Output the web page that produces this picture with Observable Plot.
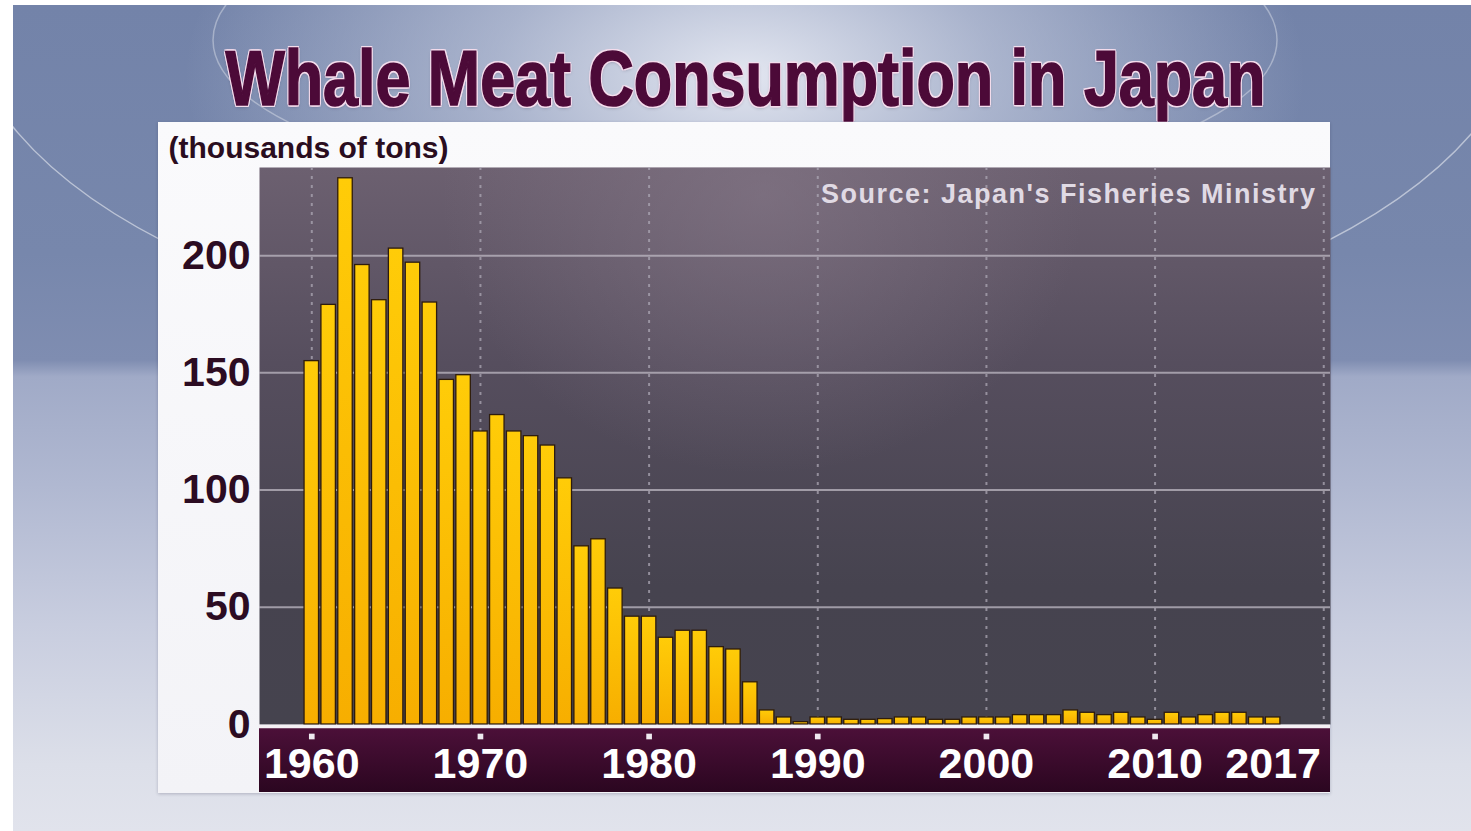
<!DOCTYPE html>
<html>
<head>
<meta charset="utf-8">
<script src="https://cdn.jsdelivr.net/npm/d3@7"></script>
<script src="https://cdn.jsdelivr.net/npm/@observablehq/plot@0.6"></script>
<style>
  html, body { margin: 0; padding: 0; width: 1471px; height: 831px; overflow: hidden; background: #ffffff; }
  body { font-family: "Liberation Sans", Arial, sans-serif; }
  #stage {
    position: absolute; left: 13px; top: 5px; width: 1458px; height: 826px; overflow: hidden;
    background:
      radial-gradient(ellipse 560px 300px at 732px 70px, rgba(232,235,244,0.95) 0%, rgba(205,211,228,0.6) 45%, rgba(190,198,220,0) 100%),
      linear-gradient(to bottom, #7383a9 0%, #7787ac 30%, #7f8db1 43%, #a0aac7 45%, #b0b8d1 58%, #c8cddf 75%, #dcdfe9 92%, #e1e3ec 100%);
  }
  #arcs { position: absolute; left: 0; top: 0; }
  #title {
    position: absolute; left: 0; top: 40px; width: 1490px; text-align: center;
    font-family: "Liberation Sans", Arial, sans-serif; font-weight: bold; font-size: 77px; line-height: 77px;
    color: #4c0a38; white-space: nowrap;
  }
  #title span {
    display: inline-block; transform-origin: 50% 50%;
    -webkit-text-stroke: 1.6px #4c0a38;
    text-shadow:
      2.2px 0 0 #f4dcec, -2.2px 0 0 #f4dcec, 0 2.2px 0 #f4dcec, 0 -2.2px 0 #f4dcec,
      1.6px 1.6px 0 #f4dcec, -1.6px 1.6px 0 #f4dcec, 1.6px -1.6px 0 #f4dcec, -1.6px -1.6px 0 #f4dcec,
      0 2px 4px rgba(40,20,50,0.35);
  }
  #panel {
    position: absolute; left: 158px; top: 122px; width: 1172px; height: 671px;
    background: linear-gradient(to bottom, #fafafc 0%, #f3f3f7 100%);
    box-shadow: 0 1px 3px rgba(40,40,70,0.25);
  }
  #chart { position: absolute; left: 158px; top: 122px; }
</style>
</head>
<body>
<div id="stage">
  <svg id="arcs" width="1458" height="826">
    <ellipse cx="732" cy="-5" rx="782" ry="361" fill="none" stroke="rgba(255,255,255,0.5)" stroke-width="1.5"></ellipse>
    <ellipse cx="732" cy="35" rx="532" ry="160" fill="none" stroke="rgba(255,255,255,0.35)" stroke-width="1.5"></ellipse>
  </svg>
</div>
<div id="title"><span id="titleText"></span></div>
<div id="panel"></div>
<div id="chart"></div>
<script>
// Whale meat consumption in Japan, thousands of tons per year
const years = [
  1960, 1961, 1962, 1963, 1964, 1965, 1966, 1967, 1968, 1969,
  1970, 1971, 1972, 1973, 1974, 1975, 1976, 1977, 1978, 1979,
  1980, 1981, 1982, 1983, 1984, 1985, 1986, 1987, 1988, 1989,
  1990, 1991, 1992, 1993, 1994, 1995, 1996, 1997, 1998, 1999,
  2000, 2001, 2002, 2003, 2004, 2005, 2006, 2007, 2008, 2009,
  2010, 2011, 2012, 2013, 2014, 2015, 2016, 2017
];
const consumption = [
  155, 179, 233, 196, 181, 203, 197, 180, 147, 149,
  125, 132, 125, 123, 119, 105, 76, 79, 58, 46,
  46, 37, 40, 40, 33, 32, 18, 6, 3, 1,
  3, 3, 2, 2, 2.3, 3, 3, 2, 2, 3,
  3, 3, 4, 4, 4, 6, 5, 4, 5, 3,
  2, 5, 3, 4, 5, 5, 3, 3
];
const yTicks = [0, 50, 100, 150, 200];
const gridValues = [50, 100, 150, 200];
const gridYears = [1960, 1970, 1980, 1990, 2000, 2010, 2020];
const decadeMarks = [1960, 1970, 1980, 1990, 2000, 2010];
const xTickLabels = [1960, 1970, 1980, 1990, 2000, 2010, 2017];
const titleText = "Whale Meat Consumption in Japan";
const unitLabel = "(thousands of tons)";
const sourceNote = "Source: Japan's Fisheries Ministry";

const data = years.map((year, i) => ({year, value: consumption[i]}));

// Title, squeezed horizontally into a condensed look
const titleSpan = document.getElementById("titleText");
titleSpan.textContent = titleText;
const naturalWidth = titleSpan.getBoundingClientRect().width;
titleSpan.style.transform = `scaleX(${1040 / naturalWidth})`;

const plot = Plot.plot({
  width: 1172,
  height: 671,
  marginLeft: 101,
  marginRight: 0,
  marginTop: 45,
  marginBottom: 69,
  style: {background: "transparent", fontFamily: "'Liberation Sans', Arial, sans-serif", overflow: "visible"},
  x: {domain: [1956.9, 2020.4]},
  y: {domain: [0, 237.6]},
  marks: [
    Plot.frame({fill: "url(#plotBg)"}),
    Plot.frame({fill: "url(#plotGlow)"}),
    Plot.ruleY(gridValues, {stroke: "#bdb8c3", strokeWidth: 2, strokeOpacity: 0.75}),
    Plot.ruleX(gridYears, {stroke: "#aca7b4", strokeWidth: 2, strokeDasharray: "3,6", strokeOpacity: 0.75}),
    Plot.rect(data, {
      x1: d => d.year - 0.5,
      x2: d => d.year + 0.5,
      y1: 0,
      y2: "value",
      insetLeft: 1.2,
      insetRight: 1.2,
      fill: "url(#barFill)",
      stroke: "#2e1c0c",
      strokeWidth: 1.3
    }),
    Plot.ruleY([0], {stroke: "#f5f1f5", strokeWidth: 3.5, dy: 2}),
    Plot.dot(decadeMarks, {x: d => d, frameAnchor: "bottom", dy: 12, symbol: "square", r: 3.2, fill: "#efeaf0"}),
    Plot.axisX(xTickLabels, {
      tickSize: 0, tickPadding: 23, tickFormat: d => String(d),
      fontSize: 43, fontWeight: "bold", color: "#ffffff", label: null
    }),
    Plot.axisY(yTicks, {
      tickSize: 0, tickPadding: 9,
      fontSize: 41, fontWeight: "bold", color: "#2c0c22", label: null
    }),
    Plot.text([unitLabel], {
      frameAnchor: "top-left", dx: -91, dy: -19, textAnchor: "start", lineAnchor: "middle",
      fontSize: 30, fontWeight: "bold", fill: "#2a0d20"
    }),
    Plot.text([sourceNote], {
      frameAnchor: "top-right", dx: -14, dy: 27, textAnchor: "end", lineAnchor: "middle",
      fontSize: 27, fontWeight: "bold", fill: "#e0dae4"
    })
  ]
});

// Gradients and the maroon year band
const svg = d3.select(plot);
const defs = svg.insert("defs", ":first-child");
defs.html(`
  <linearGradient id="plotBg" x1="0" y1="0" x2="0" y2="1">
    <stop offset="0" stop-color="#6c6070"/>
    <stop offset="0.35" stop-color="#564e5e"/>
    <stop offset="0.75" stop-color="#46434f"/>
    <stop offset="1" stop-color="#45434e"/>
  </linearGradient>
  <radialGradient id="plotGlow" cx="0.45" cy="0.05" r="0.5" gradientTransform="translate(0.2,0) scale(0.6,1)">
    <stop offset="0" stop-color="#8a7c8c" stop-opacity="0.55"/>
    <stop offset="1" stop-color="#8a7c8c" stop-opacity="0"/>
  </radialGradient>
  <linearGradient id="barFill" x1="0" y1="0" x2="0" y2="1">
    <stop offset="0" stop-color="#ffcc08"/>
    <stop offset="1" stop-color="#f7ae00"/>
  </linearGradient>
  <linearGradient id="bandFill" x1="0" y1="0" x2="0" y2="1">
    <stop offset="0" stop-color="#4c1039"/>
    <stop offset="1" stop-color="#2b0620"/>
  </linearGradient>
`);
const [xLeft, xRight] = plot.scale("x").range;
const yBase = plot.scale("y").range[0];
const band = document.createElementNS("http://www.w3.org/2000/svg", "rect");
band.setAttribute("x", xLeft);
band.setAttribute("y", yBase + 3);
band.setAttribute("width", xRight - xLeft);
band.setAttribute("height", 671 - yBase - 4);
band.setAttribute("fill", "url(#bandFill)");
plot.insertBefore(band, defs.node().nextSibling);

svg.selectAll("text")
  .filter(function () { return this.textContent === sourceNote; })
  .style("letter-spacing", "1.5px");

document.getElementById("chart").appendChild(plot);
</script>
</body>
</html>
